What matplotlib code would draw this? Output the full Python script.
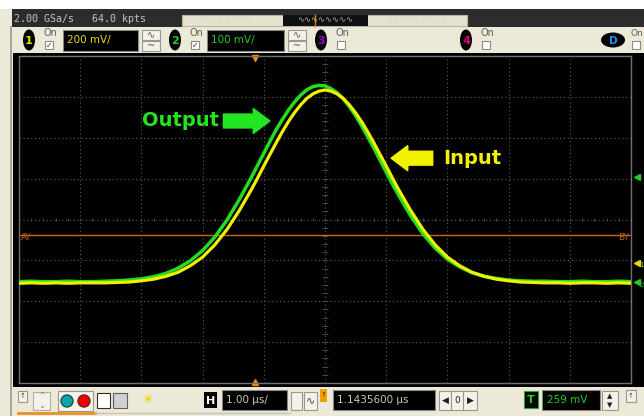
import matplotlib.pyplot as plt
from matplotlib.patches import Rectangle, Ellipse, Circle
import numpy as np

# time axis (us) and traces in screen divisions (0 = bottom graticule line)
t_us = [-5.0, -4.8, -4.6, -4.4, -4.2, -4.0, -3.8, -3.6, -3.4, -3.2, -3.0,
        -2.8, -2.6, -2.4, -2.2, -2.0, -1.8, -1.6, -1.4, -1.2, -1.1, -1.0,
        -0.9, -0.8, -0.7, -0.6, -0.5, -0.4, -0.3, -0.2, -0.1, 0.0,
        0.1, 0.2, 0.3, 0.4, 0.5, 0.6, 0.7, 0.8, 0.9, 1.0, 1.1,
        1.2, 1.4, 1.6, 1.8, 2.0, 2.2, 2.4, 2.6, 2.8, 3.0,
        3.2, 3.4, 3.6, 3.8, 4.0, 4.2, 4.4, 4.6, 4.8, 5.0]
ch1_input = [2.44, 2.45, 2.44, 2.45, 2.44, 2.45, 2.45, 2.45, 2.46, 2.47, 2.50,
             2.54, 2.61, 2.71, 2.87, 3.08, 3.38, 3.76, 4.22, 4.74, 5.02, 5.31,
             5.59, 5.87, 6.14, 6.39, 6.61, 6.80, 6.96, 7.07, 7.14, 7.17,
             7.14, 7.07, 6.96, 6.80, 6.61, 6.39, 6.14, 5.87, 5.59, 5.31, 5.02,
             4.74, 4.22, 3.76, 3.38, 3.08, 2.87, 2.71, 2.61, 2.54, 2.50,
             2.47, 2.46, 2.45, 2.45, 2.44, 2.45, 2.45, 2.44, 2.45, 2.44]
ch2_output = [2.48, 2.49, 2.48, 2.48, 2.49, 2.48, 2.48, 2.49, 2.50, 2.52, 2.55,
              2.60, 2.68, 2.81, 2.99, 3.24, 3.57, 3.99, 4.49, 5.04, 5.33, 5.62,
              5.91, 6.19, 6.44, 6.67, 6.87, 7.04, 7.17, 7.25, 7.28, 7.27,
              7.20, 7.10, 6.95, 6.76, 6.54, 6.29, 6.02, 5.74, 5.45, 5.16, 4.87,
              4.60, 4.09, 3.65, 3.30, 3.03, 2.84, 2.70, 2.61, 2.56, 2.52,
              2.50, 2.49, 2.49, 2.48, 2.48, 2.49, 2.48, 2.48, 2.49, 2.48]
cursor_level = 3.62
trig_pos = -1.14

BEIGE = '#ece9d8'
YEL = '#f0f000'
GRN = '#22dd22'

fig = plt.figure(figsize=(6.44, 4.16), dpi=100, facecolor=BEIGE)

# ---- UI frame drawn in pixel coordinates ----
ui = fig.add_axes([0, 0, 1, 1], zorder=0)
ui.set_xlim(0, 644)
ui.set_ylim(416, 0)
ui.axis('off')


def box(x0, y0, x1, y1, fc, ec='none', lw=0.8, z=1):
    ui.add_patch(Rectangle((x0, y0), x1 - x0, y1 - y0, facecolor=fc,
                           edgecolor=ec, linewidth=lw, zorder=z))


def txt(x, y, s, c='#303030', size=7, **kw):
    ui.text(x, y, s, color=c, fontsize=size, va='center', zorder=5, **kw)


box(0, 0, 644, 9, 'white')
box(12, 9, 644, 27, '#2c2c2c')
txt(14, 18.5, '2.00 GSa/s   64.0 kpts', c='#c4c4c4', size=7.2, family='DejaVu Sans Mono')
box(182, 15, 467, 26, '#e6e2cf', ec='#b8b4a4')
box(283, 15, 368, 26, '#101010')
txt(325, 20, '∿∿∿∿∿∿∿∿', c='#b0b0b0', size=6, ha='center')
txt(224, 20, '∿∿∿∿∿∿∿∿', c='#d8d4c4', size=6, ha='center')
txt(417, 20, '∿∿∿∿∿∿∿∿∿', c='#d8d4c4', size=6, ha='center')
ui.plot([315, 315], [15, 26], color='#e08000', lw=1, zorder=3)
ui.plot([11, 11], [27, 416], color='#9a9890', lw=1.2, zorder=2)

# channel buttons
channels = [(29, '1', '#e0e000', '200 mV/', 63, 138, 142),
            (175, '2', '#22cc22', '100 mV/', 207, 284, 288),
            (321, '3', '#a000c8', None, 0, 0, 0),
            (466, '4', '#e0007a', None, 0, 0, 0)]
for cx, num, col, scale, bx0, bx1, btn in channels:
    ui.add_patch(Ellipse((cx, 40), 12, 21, facecolor='black', zorder=3))
    txt(cx, 40.5, num, c=col, size=8, ha='center', weight='bold')
    txt(cx + 15, 33.5, 'On', c='#606060', size=7)
    box(cx + 16, 41, cx + 24, 49, 'white', ec='#8a8a8a', z=3)
    if scale:
        txt(cx + 20, 45, '✓', c='#303030', size=5.5, ha='center')
        box(bx0, 30, bx1, 51, 'black', ec='#888888', z=3)
        txt(bx0 + 4, 40.5, scale, c=col, size=7.5)
        box(btn, 30, btn + 18, 40, '#f4f2e8', ec='#9a9890', z=3)
        box(btn, 41, btn + 18, 51, '#f4f2e8', ec='#9a9890', z=3)
        txt(btn + 9, 35, '∿', c='#505050', size=7, ha='center')
        txt(btn + 9, 46, '~', c='#505050', size=7, ha='center')
ui.add_patch(Ellipse((613, 40), 24, 15, facecolor='black', zorder=3))
txt(613, 40.5, 'D', c='#1e90ff', size=7.5, ha='center', weight='bold')
txt(631, 33.5, 'On', c='#606060', size=6.5)
box(632, 41, 640, 49, 'white', ec='#8a8a8a', z=3)

# display background
box(13, 53, 644, 387, 'black')

# bottom control strip
box(18, 391, 27, 402, '#f4f2e8', ec='#9a9890')
txt(22.5, 396, '↑', size=5, ha='center')
box(33, 392, 50, 410, '#f4f2e8', ec='#b0ae9e')
txt(41.5, 396, '⌃', c='#707070', size=6, ha='center')
txt(41.5, 406, '⌄', c='#707070', size=6, ha='center')
box(58, 391, 93, 411, '#f4f2e8', ec='#9a9890')
ui.add_patch(Circle((67, 401), 6, facecolor='#00a8a8', edgecolor='#205050', zorder=3))
ui.add_patch(Circle((84, 401), 6, facecolor='#ee0000', edgecolor='#702020', zorder=3))
box(97, 393, 110, 408, 'white', ec='#303030', z=3)
box(113, 393, 127, 408, '#d0d0d0', ec='#606060', z=3)
txt(148, 400, '☀', c='#e8d800', size=10, ha='center')
box(204, 392, 217, 408, 'black')
txt(210.5, 400.5, 'H', c='white', size=8, ha='center', weight='bold')
box(222, 390, 287, 410, 'black', ec='#888888')
txt(226, 400, '1.00 µs/', c='#c8c8c8', size=7.5)
box(291, 392, 302, 410, '#f4f2e8', ec='#9a9890')
box(304, 392, 317, 410, '#f4f2e8', ec='#9a9890')
txt(310.5, 400, '∿', c='#404040', size=8, ha='center')
box(320, 389, 327, 402, '#f0a000')
txt(323.5, 395, '↑', size=5, ha='center')
box(333, 390, 435, 410, 'black', ec='#888888')
txt(337, 400, '1.1435600 µs', c='#c8c8c8', size=7.5)
for bx0, bx1, s in [(439, 451, '◀'), (451, 463, '0'), (463, 477, '▶')]:
    box(bx0, 391, bx1, 410, '#f4f2e8', ec='#9a9890')
    txt((bx0 + bx1) / 2, 400.5, s, c='#202020', size=6.5, ha='center')
box(524, 391, 538, 408, 'black', ec='#22aa22')
txt(531, 400, 'T', c='#22dd22', size=8, ha='center', weight='bold')
box(542, 390, 600, 410, 'black', ec='#888888')
txt(547, 400, '259 mV', c='#22cc22', size=7.5)
box(602, 391, 618, 410, '#f4f2e8', ec='#9a9890')
txt(610, 396, '▲', c='#202020', size=5, ha='center')
txt(610, 405, '▼', c='#202020', size=5, ha='center')
box(626, 390, 636, 402, '#f4f2e8', ec='#9a9890')
txt(631, 396, '↑', size=5, ha='center')
ui.plot([18, 95], [413, 413], color='#e89020', lw=2, zorder=2)
ui.plot([95, 290], [413, 413], color='#c8c4b4', lw=1, zorder=2)

# ---- scope graticule ----
ax = fig.add_axes([19 / 644, 33 / 416, 612 / 644, 327 / 416], zorder=1)
ax.set_facecolor('black')
ax.set_xlim(-5, 5)
ax.set_ylim(0, 8)
ax.set_xticks(np.arange(-5, 6, 1))
ax.set_yticks(np.arange(0, 9, 1))
ax.tick_params(length=0, labelbottom=False, labelleft=False)
ax.grid(True, color='#5e5e5e', linestyle=(0, (1, 2.5)), linewidth=0.8)
for sp in ax.spines.values():
    sp.set_color('#707070')
    sp.set_linewidth(1.0)
ax.vlines(np.arange(-4.8, 5, 0.2), 3.96, 4.04, color='#4a4a4a', lw=0.7)
ax.hlines(np.arange(0.2, 8, 0.2), -0.05, 0.05, color='#4a4a4a', lw=0.7)

# cursor line and trigger markers
ax.axhline(cursor_level, color='#c86a10', lw=1.0)
ax.text(-4.97, cursor_level - 0.06, 'AY', color='#b86010', fontsize=6.5, va='center')
ax.text(4.97, cursor_level - 0.06, 'BY', color='#b86010', fontsize=6.5, va='center', ha='right')
ax.plot(trig_pos, 7.94, marker='v', color='#f09000', ms=4.5, clip_on=False)
ax.plot(trig_pos, 0.03, marker='^', color='#f09000', ms=4.5, clip_on=False)

# traces
ax.plot(t_us, ch2_output, color=GRN, lw=2.5, solid_joinstyle='round', zorder=3)
ax.plot(t_us, ch1_input, color=YEL, lw=2.3, solid_joinstyle='round', zorder=4)

# channel level markers at right edge
ax.plot(5.09, 5.04, marker='<', color='#22cc22', ms=4, clip_on=False)
ax.plot(5.09, ch1_input[-1] + 0.5, marker='<', color='#e0e000', ms=4, clip_on=False)
ax.text(5.14, ch1_input[-1] + 0.45, '1', color='#c0c000', fontsize=5, va='center', clip_on=False)
ax.plot(5.09, ch2_output[-1], marker='<', color='#22cc22', ms=4, clip_on=False)
ax.text(5.14, ch2_output[-1] - 0.08, '2', color='#22aa22', fontsize=5, va='center', clip_on=False)

# annotations
ax.text(-2.99, 6.41, 'Output', color='#22e622', fontsize=14, weight='bold', va='center')
ax.annotate('', xy=(-0.90, 6.41), xytext=(-1.66, 6.41),
            arrowprops=dict(arrowstyle='simple,head_length=0.6,head_width=0.9,tail_width=0.5',
                            color='#22e622', shrinkA=0, shrinkB=0, mutation_scale=20))
ax.text(1.93, 5.50, 'Input', color='#f2f200', fontsize=14, weight='bold', va='center')
ax.annotate('', xy=(1.08, 5.50), xytext=(1.76, 5.50),
            arrowprops=dict(arrowstyle='simple,head_length=0.6,head_width=0.9,tail_width=0.5',
                            color='#f2f200', shrinkA=0, shrinkB=0, mutation_scale=20))

fig.savefig('out.png', dpi=100, facecolor=BEIGE)
